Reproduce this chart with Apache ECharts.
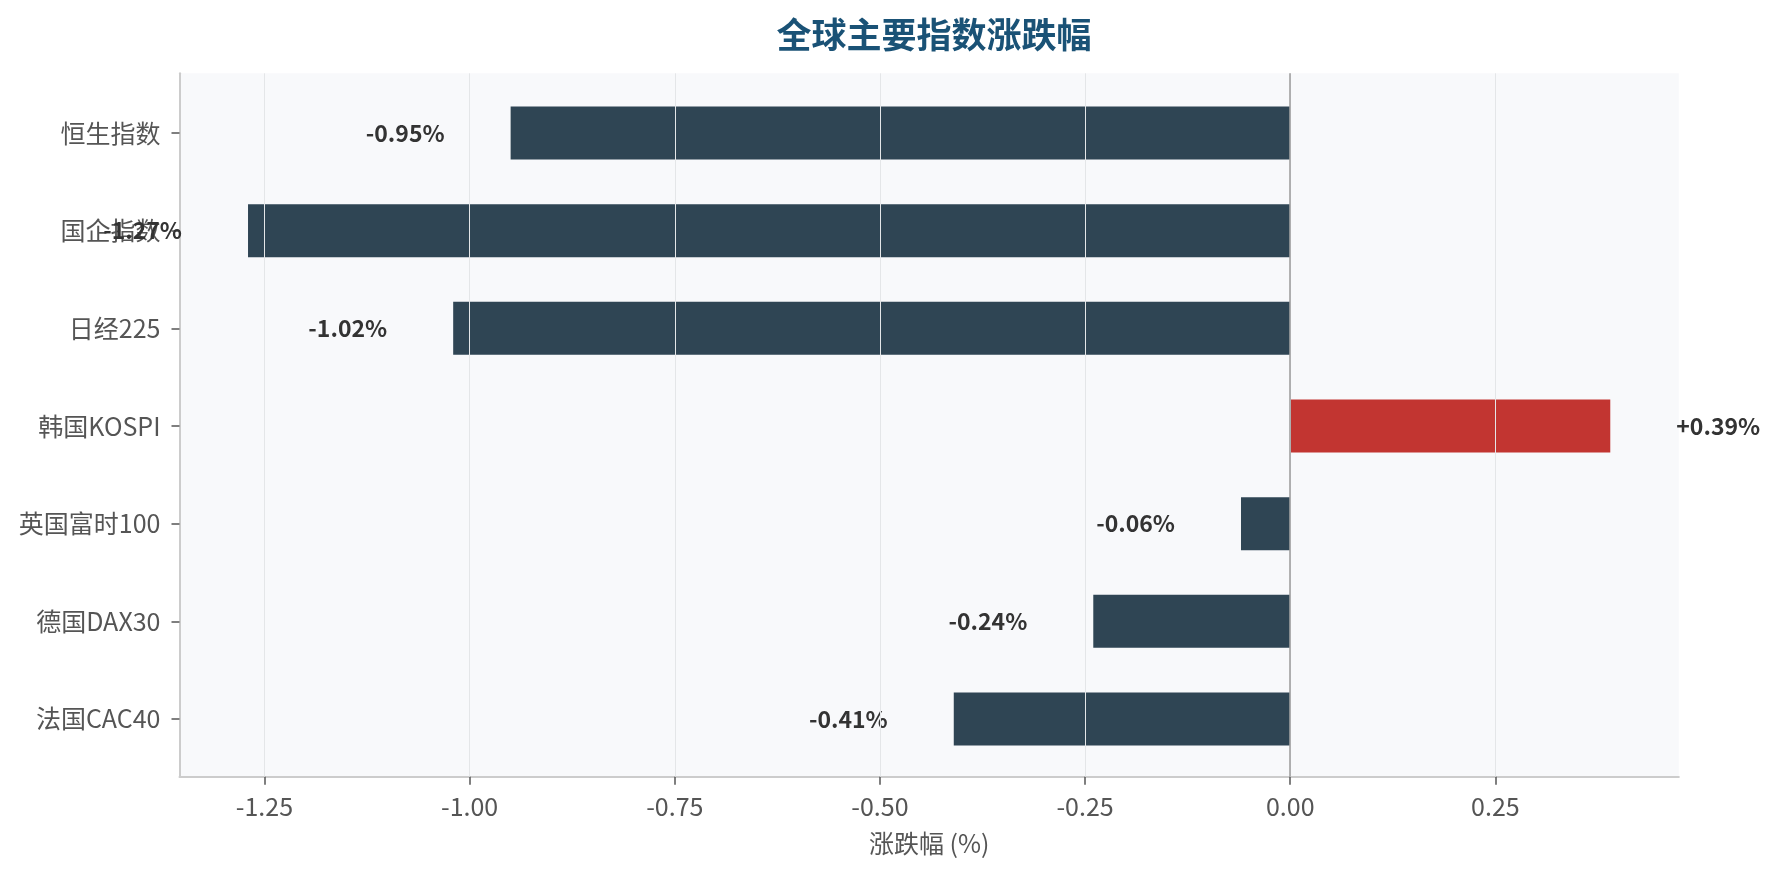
<!DOCTYPE html>
<html>
<head>
<meta charset="utf-8">
<script src="https://cdn.jsdelivr.net/npm/echarts@6/dist/echarts.min.js"></script>
<style>
html,body{margin:0;padding:0;background:#fff;}
#chart{width:1781px;height:874px;}
</style>
</head>
<body>
<div id="chart"></div>
<script>
const categories = ['恒生指数', '国企指数', '日经225', '韩国KOSPI', '英国富时100', '德国DAX30', '法国CAC40'];
const changes = [-0.95, -1.27, -1.02, 0.39, -0.06, -0.24, -0.41];
const xTicks = [-1.25, -1.00, -0.75, -0.50, -0.25, 0.00, 0.25];
const titleText = '全球主要指数涨跌幅';
const xAxisName = '涨跌幅 (%)';

const FONT = '"Noto Sans CJK SC", "Noto Sans", sans-serif';
const UP = '#c23531', DOWN = '#2f4554';
const X_MIN = -1.3535, X_MAX = 0.4735;

const chart = echarts.init(document.getElementById('chart'), null, {renderer: 'canvas'});

const gridLines = xTicks.map(v => ({xAxis: v, lineStyle: {color: '#e4e6e8', width: 1, type: 'solid'}}));
gridLines.push({xAxis: 0, lineStyle: {color: '#a0a0a0', width: 1.6, type: 'solid'}});

const option = {
  backgroundColor: '#ffffff',
  animation: false,
  textStyle: {fontFamily: FONT},
  title: {
    text: titleText,
    left: 929, top: 12, textAlign: 'center',
    textStyle: {fontSize: 35, fontWeight: 'bold', color: '#1a5276', fontFamily: FONT}
  },
  grid: [
    {left: 179.5, right: 102.2, top: 73.3, bottom: 97.3, show: true, backgroundColor: '#f8f9fb', borderWidth: 0},
    {left: 179.5, right: 102.2, top: 84.3, bottom: 106.3}
  ],
  xAxis: [
    {
      gridIndex: 0, type: 'value', min: X_MIN, max: X_MAX,
      name: xAxisName, nameLocation: 'middle', nameGap: 54,
      nameTextStyle: {fontSize: 25, color: '#555', fontFamily: FONT},
      axisLine: {show: true, onZero: false, lineStyle: {color: '#cccccc', width: 2}},
      axisTick: {show: true, length: 8, customValues: xTicks, lineStyle: {color: '#555', width: 1.5}},
      axisLabel: {customValues: xTicks, margin: 17, fontSize: 25, color: '#555', fontFamily: FONT,
        formatter: v => v.toFixed(2)},
      splitLine: {show: false}
    },
    {
      gridIndex: 1, type: 'value', min: X_MIN, max: X_MAX, show: false,
      axisLine: {onZero: false},
      splitLine: {show: false}
    }
  ],
  yAxis: [
    {
      gridIndex: 0, type: 'value', min: 0, max: 1,
      axisLine: {show: true, onZero: false, lineStyle: {color: '#cccccc', width: 2}},
      axisTick: {show: false}, axisLabel: {show: false}, splitLine: {show: false}
    },
    {
      gridIndex: 1, type: 'category', data: categories, inverse: true,
      axisLine: {show: false, onZero: false},
      axisTick: {show: true, alignWithLabel: true, length: 8, lineStyle: {color: '#555', width: 1.5}},
      axisLabel: {margin: 19, fontSize: 25, color: '#555', fontFamily: FONT},
      splitLine: {show: false}
    }
  ],
  series: [
    {
      type: 'bar', xAxisIndex: 1, yAxisIndex: 1, barWidth: 53, z: 2,
      data: changes.map(v => ({
        value: v,
        itemStyle: {color: v >= 0 ? UP : DOWN},
        label: {
          show: true,
          position: v >= 0 ? 'right' : 'left',
          distance: 66,
          formatter: (v >= 0 ? '+' : '') + v.toFixed(2) + '%',
          fontSize: 23, fontWeight: 'bold', color: '#333', fontFamily: FONT
        }
      }))
    },
    {
      type: 'line', xAxisIndex: 0, yAxisIndex: 0, z: 3,
      data: [[0, 0.5]], showSymbol: false, symbolSize: 0,
      lineStyle: {opacity: 0}, silent: true,
      markLine: {silent: true, symbol: 'none', label: {show: false}, data: gridLines}
    }
  ]
};
chart.setOption(option);
</script>
</body>
</html>
